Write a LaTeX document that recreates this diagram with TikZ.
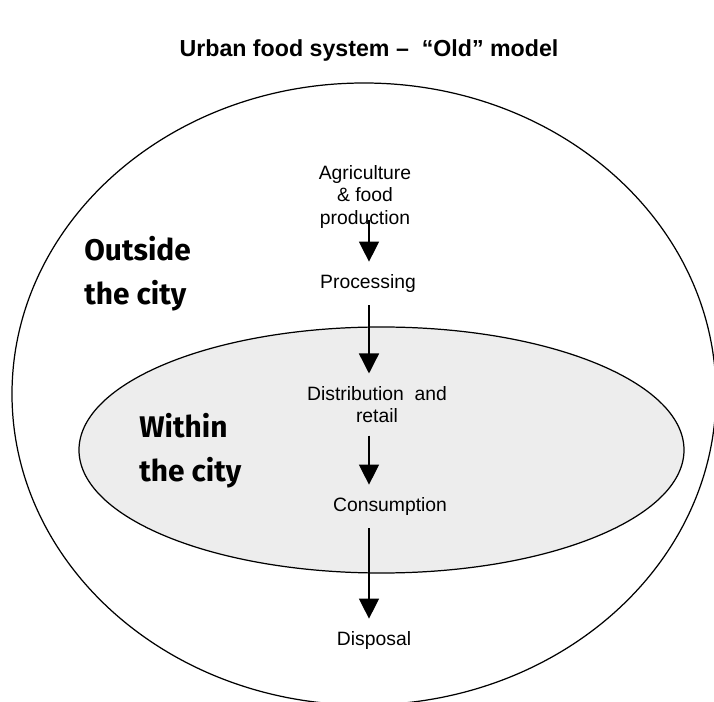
\documentclass[tikz,border=0pt]{standalone}
\usepackage{fontspec}
\setmainfont{Liberation Sans}
\newfontfamily\zonefont{Fira Sans}
\usetikzlibrary{arrows.meta, positioning}
\tikzstyle{step label}=[inner sep=0pt, font=\fontsize{11}{12.6}\selectfont, align=center]
\tikzstyle{zone label}=[inner sep=0pt, font=\zonefont\bfseries\fontsize{17}{25}\selectfont, align=left, anchor=west]
\tikzstyle{flow}=[-{Triangle[width=0.4cm,length=0.4cm]}, line width=0.8pt, shorten <=0.24cm, shorten >=0.26cm]

\begin{document}
\begin{tikzpicture}[x=0.02cm,y=-0.02cm]
    \useasboundingbox (0,0) rectangle (714,702);
    \draw[line width=0.7pt] (364,394) ellipse [x radius=352, y radius=311];
    \draw[line width=0.7pt, fill=gray!14] (381.5,450) ellipse [x radius=302.5, y radius=123];
    \node[font=\bfseries\fontsize{13.2}{15}\selectfont] (title) at (369,51) {Urban food system --\ \ ``Old'' model};
    \node[step label] (agri) at (365,197) {Agriculture\\\& food\\production};
    \node[step label] (proc) at (368,284) {Processing};
    \node[step label] (dist) at (377,405) {Distribution\ \ and\\retail};
    \node[step label] (cons) at (390,507) {Consumption};
    \node[step label] (disp) at (374,641) {Disposal};
    \node[zone label] (out) at (84,274) {Outside\\the city};
    \node[zone label] (in) at (139,451) {Within\\the city};
    \coordinate (axis) at (369,0);
    \draw[flow, shorten <=-0.16cm] (agri.south -| axis) -- (proc.north -| axis);
    \draw[flow] (proc.south -| axis) -- (dist.north -| axis);
    \draw[flow] (dist.south -| axis) -- (cons.north -| axis);
    \draw[flow] (cons.south -| axis) -- (disp.north -| axis);
\end{tikzpicture}
\end{document}
